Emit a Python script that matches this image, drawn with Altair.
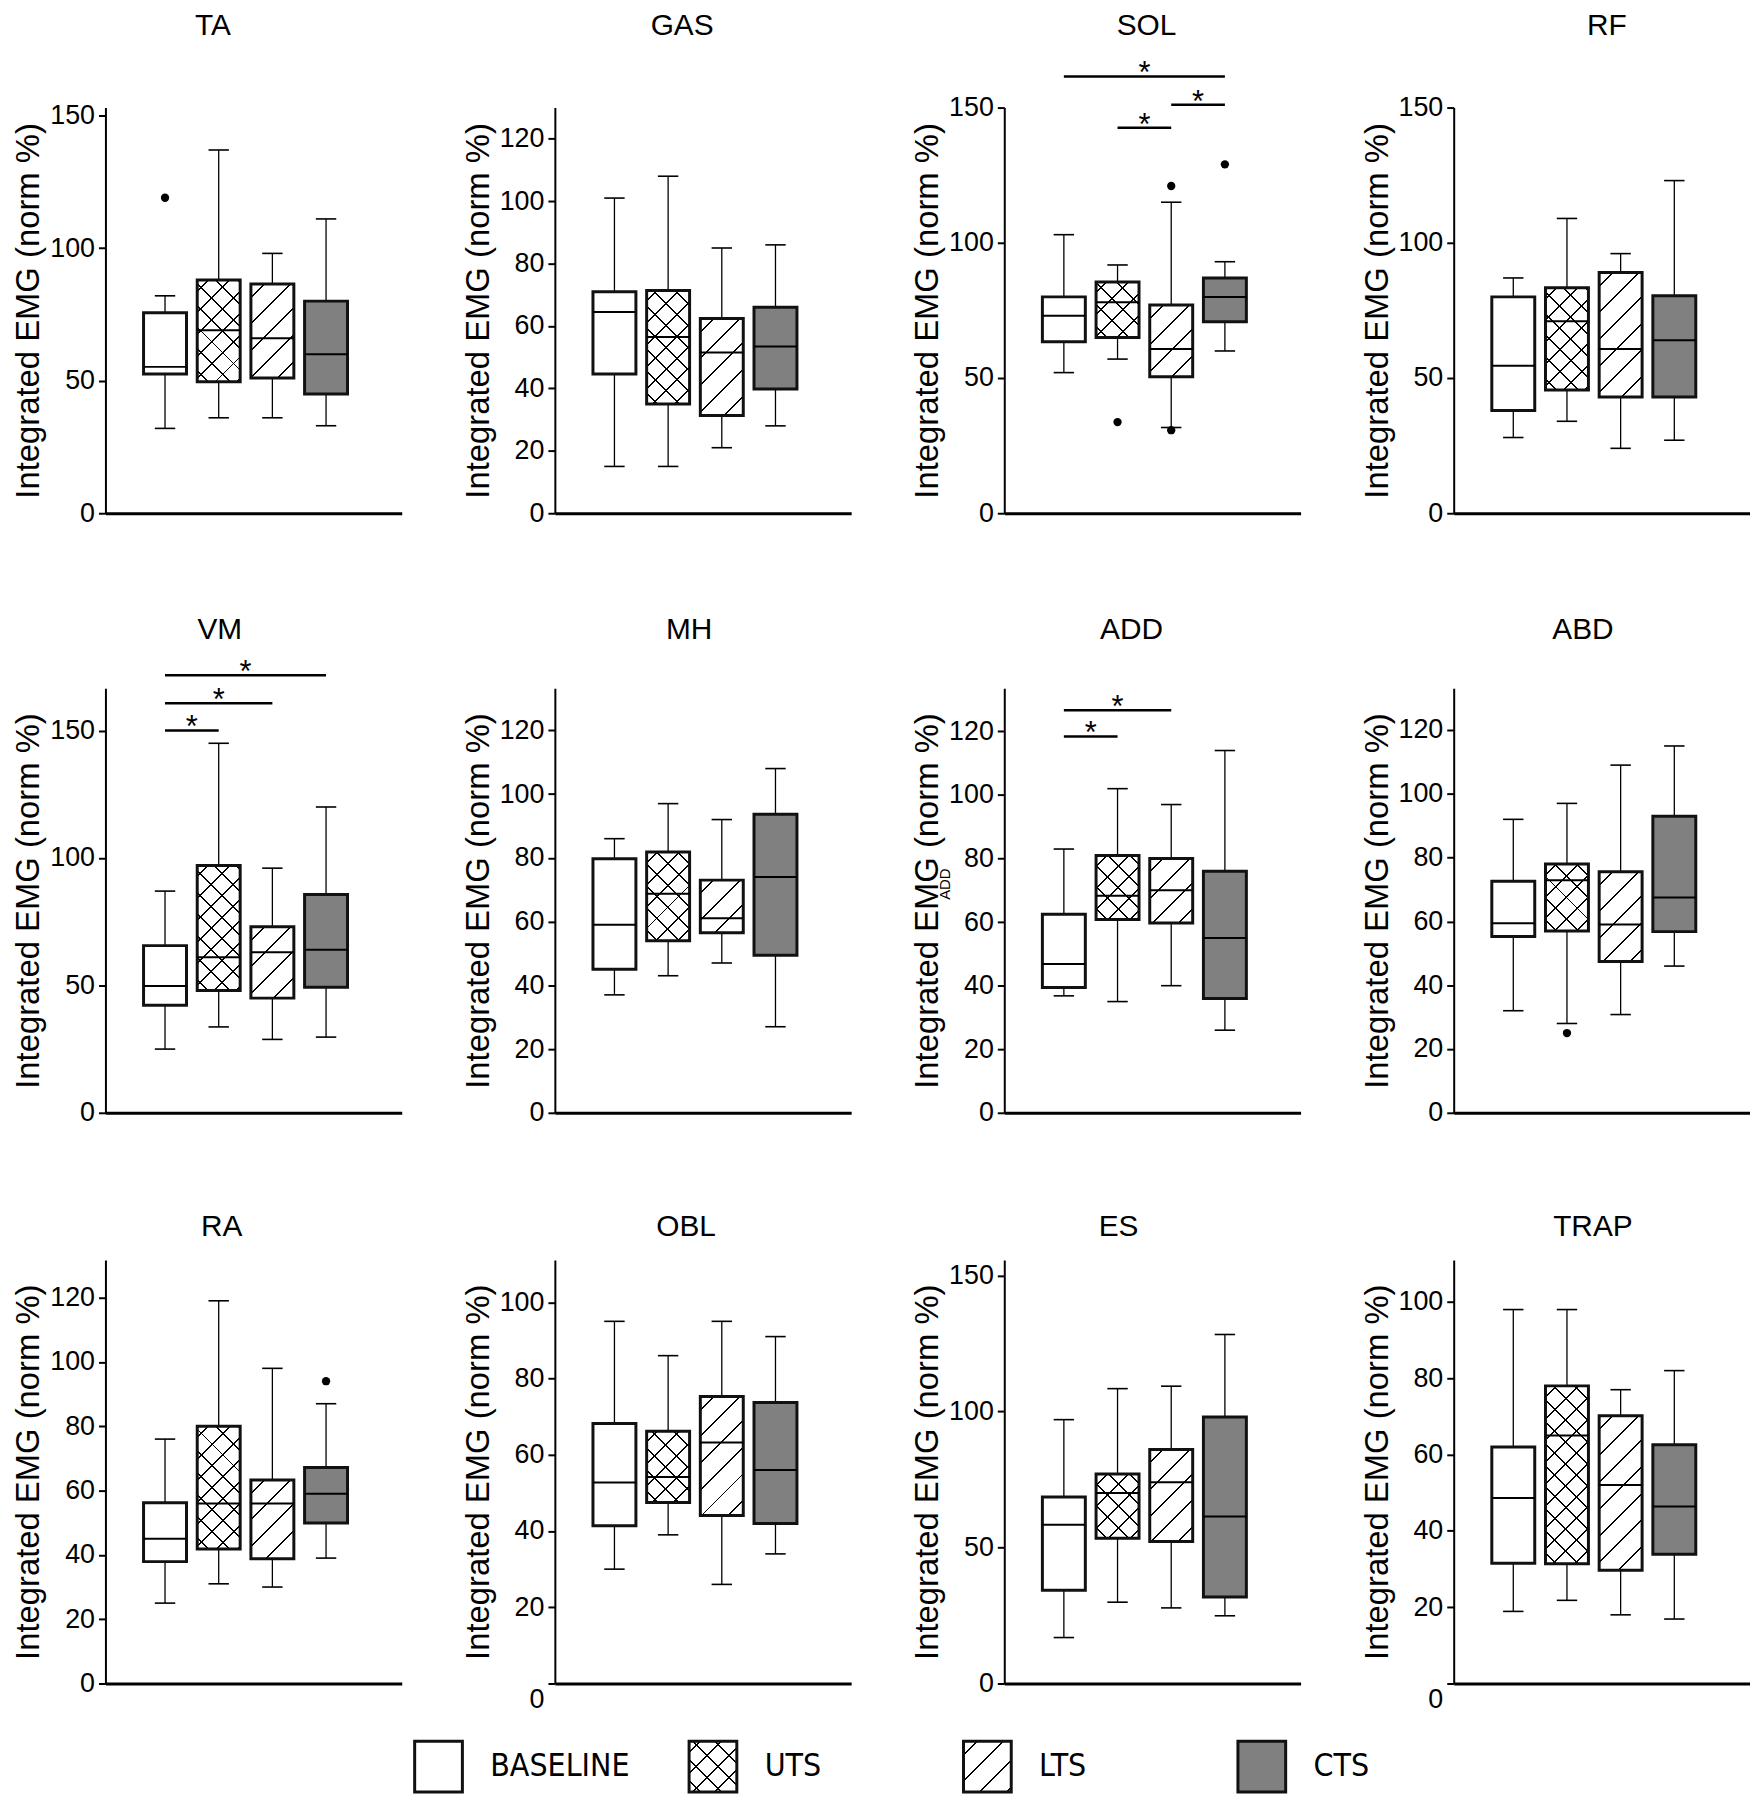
import altair as alt
import pandas as pd

GROUPS = ["BASELINE", "UTS", "LTS", "CTS"]
PANEL_ROWS = [
    ["TA", "GAS", "SOL", "RF"],
    ["VM", "MH", "ADD", "ABD"],
    ["RA", "OBL", "ES", "TRAP"],
]

# top of each y axis and its tick values
Y_TOP = {"TA": 153, "GAS": 130, "SOL": 150, "RF": 150,
         "VM": 166.6, "MH": 133.2, "ADD": 133.6, "ABD": 133.1,
         "RA": 131.7, "OBL": 111.1, "ES": 155.7, "TRAP": 111}
TICKS_150 = [0, 50, 100, 150]
TICKS_120 = [0, 20, 40, 60, 80, 100, 120]
TICKS_100 = [0, 20, 40, 60, 80, 100]
Y_TICKS = {"TA": TICKS_150, "GAS": TICKS_120, "SOL": TICKS_150, "RF": TICKS_150,
           "VM": TICKS_150, "MH": TICKS_120, "ADD": TICKS_120, "ABD": TICKS_120,
           "RA": TICKS_120, "OBL": TICKS_100, "ES": TICKS_150, "TRAP": TICKS_100}

# box plot values, order BASELINE, UTS, LTS, CTS
WHISKER_LOW = {
    "TA": [32, 36, 36, 33], "GAS": [15, 15, 21, 28], "SOL": [52, 57, 31.7, 60], "RF": [28, 34, 24, 27],
    "VM": [25, 33.7, 28.8, 29.7], "MH": [37, 43, 47, 27], "ADD": [36.8, 35, 40, 26], "ABD": [32, 28, 30.8, 46],
    "RA": [25, 31, 30, 39], "OBL": [30, 39, 26, 34], "ES": [16.9, 29.9, 27.8, 24.9], "TRAP": [18.9, 21.8, 18, 16.9],
}
Q1 = {
    "TA": [52.5, 49.6, 51, 45], "GAS": [44.6, 35, 31.3, 39.8], "SOL": [63.4, 65, 50.5, 70.8], "RF": [38, 45.6, 43, 43],
    "VM": [42.2, 48, 45, 49.3], "MH": [45, 54, 56.5, 49.4], "ADD": [39.4, 60.8, 59.7, 36], "ABD": [55.3, 57, 47.4, 56.8],
    "RA": [37.9, 41.8, 38.8, 49.9], "OBL": [41.4, 47.5, 44.1, 42], "ES": [34.3, 53.4, 52.2, 31.8], "TRAP": [31.5, 31.4, 29.7, 33.9],
}
MEDIAN = {
    "TA": [55.2, 69, 66, 60], "GAS": [64.5, 56.5, 51.5, 53.4], "SOL": [73, 78, 60.7, 80], "RF": [54.5, 71, 60.7, 64],
    "VM": [49.8, 61, 63, 64], "MH": [59, 68.7, 61, 74], "ADD": [46.8, 68.3, 70, 55], "ABD": [59.4, 72.9, 59, 67.5],
    "RA": [45, 56, 56, 59], "OBL": [52.7, 54.2, 63.2, 56], "ES": [58.4, 70, 74, 61.4], "TRAP": [48.6, 65, 52, 46.4],
}
Q3 = {
    "TA": [75.6, 88, 86.5, 80], "GAS": [71, 71.4, 62.4, 66], "SOL": [80, 85.5, 77, 87], "RF": [80, 83.4, 89, 80.4],
    "VM": [65.6, 97, 73, 85.7], "MH": [79.7, 81.8, 73, 93.7], "ADD": [62.5, 81, 80, 76], "ABD": [72.6, 78, 75.6, 93],
    "RA": [56.2, 80, 63.3, 67.2], "OBL": [68.2, 66.2, 75.3, 73.7], "ES": [68.6, 77, 86, 98], "TRAP": [62, 78, 70.2, 62.6],
}
WHISKER_HIGH = {
    "TA": [82, 137, 98, 111], "GAS": [101, 108, 85, 86], "SOL": [103, 91.8, 115, 93], "RF": [87, 109, 96, 123],
    "VM": [87, 145, 96, 120], "MH": [86, 97, 92, 108], "ADD": [83, 102, 97, 114], "ABD": [92, 97, 109, 115],
    "RA": [76, 119, 98, 87], "OBL": [95, 86, 95, 91], "ES": [97, 108.4, 109.3, 128.3], "TRAP": [98, 98, 77, 82],
}
OUTLIERS = [("TA", "BASELINE", 119), ("SOL", "UTS", 33.7), ("SOL", "LTS", 121), ("SOL", "LTS", 30.7),
            ("SOL", "CTS", 129), ("ABD", "UTS", 25), ("RA", "CTS", 94)]
SIGNIFICANT = [("SOL", "BASELINE", "CTS", 161.5), ("SOL", "UTS", "LTS", 142.5), ("SOL", "LTS", "CTS", 151),
               ("VM", "BASELINE", "UTS", 150), ("VM", "BASELINE", "LTS", 160.7), ("VM", "BASELINE", "CTS", 171.7),
               ("ADD", "BASELINE", "UTS", 118.4), ("ADD", "BASELINE", "LTS", 126.7)]

TITLE_SHIFT = {"TA": -41, "GAS": -21, "SOL": -6, "RF": 5, "VM": -34, "MH": -14, "ADD": -21, "ABD": -19,
               "RA": -32, "OBL": -17, "ES": -34, "TRAP": -9}

FONT = "Liberation Sans"
CONDENSED = "DejaVu Sans Condensed, Liberation Sans"

PLOT_W = 298
ROW_H = [408, 427, 426]
TITLE_Y = [-73, -50, -24]
X_DOMAIN = [-1.11, 4.41]
UNIT = PLOT_W / (X_DOMAIN[1] - X_DOMAIN[0])
BOX_HALF = 0.4
CAP_HALF = 0.19
BOX_FILL = ["white", "white", "white", "#808080"]
CLEAR = "rgba(255,255,255,0)"
HATCH = {"UTS": [("/", "white", 15.5), ("\\", CLEAR, 15.5)],
         "LTS": [("/", "white", 19)]}


def stripes(w, h, direction, bg, spacing, lw=1.4):
    # linear gradient that draws 45 degree lines inside a w x h box
    k = (w + h) / (w * w + h * h)
    if direction == "/":
        x1, y1, x2, y2 = 0, 0, k * w, k * h
    else:
        x1, y1, x2, y2 = 0, 1, k * w, 1 - k * h
    span = (w + h) / 2 ** 0.5
    half = lw / 2 / span
    stops = [alt.GradientStop(offset=0, color=bg)]
    d = spacing / 2
    while d < span:
        c = d / span
        a = round(max(c - half, 0), 5)
        b = round(min(c + half, 1), 5)
        stops += [alt.GradientStop(offset=a, color=bg), alt.GradientStop(offset=a, color="black"),
                  alt.GradientStop(offset=b, color="black"), alt.GradientStop(offset=b, color=bg)]
        d += spacing
    stops.append(alt.GradientStop(offset=1, color=bg))
    return alt.LinearGradient(gradient="linear", stops=stops, x1=x1, y1=y1, x2=x2, y2=y2)


def panel(m, height, title_y):
    top = Y_TOP[m]
    df = pd.DataFrame({"group": GROUPS, "pos": list(range(4)), "low": WHISKER_LOW[m], "q1": Q1[m],
                       "median": MEDIAN[m], "q3": Q3[m], "high": WHISKER_HIGH[m]})
    xs = alt.Scale(domain=X_DOMAIN, nice=False, zero=False)
    ys = alt.Scale(domain=[0, top], nice=False, zero=False)
    y_args = dict(values=Y_TICKS[m], title="Integrated EMG (norm %)", labelOverlap=False)
    if m in ("OBL", "TRAP"):
        y_args["labelOffset"] = {"condition": {"test": "datum.value === 0", "value": 16}, "value": 0}
    y_axis = alt.Axis(**y_args)
    x_axis = alt.Axis(labels=False, ticks=False, title=None, domainWidth=3)

    def X(f):
        return alt.X(f + ":Q", scale=xs, axis=x_axis)

    def Y(f):
        return alt.Y(f + ":Q", scale=ys, axis=y_axis)

    base = alt.Chart(df).transform_calculate(
        left=f"datum.pos - {BOX_HALF}", right=f"datum.pos + {BOX_HALF}",
        cap_left=f"datum.pos - {CAP_HALF}", cap_right=f"datum.pos + {CAP_HALF}")
    box = dict(x=X("left"), x2=alt.X2("right"), y=Y("q1"), y2=alt.Y2("q3"))

    layers = [
        base.mark_rule(color="black", strokeWidth=1.3).encode(x=X("pos"), y=Y("low"), y2=alt.Y2("high")),
        base.transform_fold(["low", "high"], as_=["end", "value"]).mark_rule(color="black", strokeWidth=1.6)
            .encode(x=X("cap_left"), x2=alt.X2("cap_right"), y=Y("value")),
        base.mark_rect(strokeWidth=0).encode(
            fill=alt.Fill("group:N", scale=alt.Scale(domain=GROUPS, range=BOX_FILL), legend=None), **box),
    ]
    box_w = 2 * BOX_HALF * UNIT
    for g, lo, hi in zip(GROUPS, Q1[m], Q3[m]):
        for direction, bg, spacing in HATCH.get(g, []):
            grad = stripes(box_w, (hi - lo) / top * height, direction, bg, spacing)
            layers.append(base.transform_filter(alt.datum.group == g)
                          .mark_rect(fill=grad, strokeWidth=0).encode(**box))
    layers += [
        base.mark_rect(fill="white", fillOpacity=0, stroke="#111111", strokeWidth=3).encode(**box),
        base.mark_rule(color="black", strokeWidth=2).encode(x=X("left"), x2=alt.X2("right"), y=Y("median")),
    ]

    out = [(GROUPS.index(g), v) for mm, g, v in OUTLIERS if mm == m]
    if out:
        odf = pd.DataFrame(out, columns=["pos", "value"])
        layers.append(alt.Chart(odf).mark_point(filled=True, size=70, color="black", opacity=1)
                      .encode(x=X("pos"), y=Y("value")))

    sig = [(GROUPS.index(a), GROUPS.index(b), v) for mm, a, b, v in SIGNIFICANT if mm == m]
    if sig:
        sdf = pd.DataFrame(sig, columns=["a", "b", "level"])
        sbase = alt.Chart(sdf).transform_calculate(mid="(datum.a + datum.b) / 2")
        layers.append(sbase.mark_rule(color="black", strokeWidth=2.5)
                      .encode(x=X("a"), x2=alt.X2("b"), y=Y("level")))
        layers.append(sbase.mark_text(text="*", font=FONT, fontSize=31, baseline="alphabetic", dy=7)
                      .encode(x=X("mid"), y=Y("level")))

    layers.append(alt.Chart(pd.DataFrame({"name": [m]}))
                  .mark_text(font=FONT, fontSize=30, align="center", baseline="alphabetic", dx=TITLE_SHIFT[m])
                  .encode(x=alt.value(PLOT_W / 2), y=alt.value(title_y), text="name:N"))
    if m == "ADD":
        layers.append(alt.Chart(pd.DataFrame({"sub": ["ADD"]}))
                      .mark_text(font=FONT, fontSize=15, angle=270, align="center", baseline="middle")
                      .encode(x=alt.value(-60), y=alt.value(197), text="sub:N"))

    return alt.layer(*layers).properties(width=PLOT_W, height=height)


def legend():
    LEG_W, LEG_H = 1481, 51
    step, first = 276, 335
    xs = alt.Scale(domain=[-first / step, (LEG_W - first) / step], nice=False, zero=False)
    half = 24 / step
    df = pd.DataFrame({"group": GROUPS, "pos": list(range(4))})
    base = alt.Chart(df).transform_calculate(left=f"datum.pos - {half}", right=f"datum.pos + {half}")
    box = dict(x=alt.X("left:Q", scale=xs, axis=None), x2=alt.X2("right"),
               y=alt.value(0), y2=alt.value(LEG_H))
    layers = [base.mark_rect(strokeWidth=0).encode(
        fill=alt.Fill("group:N", scale=alt.Scale(domain=GROUPS, range=BOX_FILL), legend=None), **box)]
    for g in GROUPS:
        for direction, bg, spacing in HATCH.get(g, []):
            layers.append(base.transform_filter(alt.datum.group == g)
                          .mark_rect(fill=stripes(48, LEG_H, direction, bg, spacing), strokeWidth=0)
                          .encode(**box))
    layers.append(base.mark_rect(fill="white", fillOpacity=0, stroke="#111111", strokeWidth=3).encode(**box))
    layers.append(base.mark_text(font=CONDENSED, fontSize=32, align="left", baseline="middle", dx=52)
                  .encode(x=alt.X("pos:Q", scale=xs, axis=None), y=alt.value(LEG_H / 2), text="group:N"))
    return alt.layer(*layers).properties(width=LEG_W, height=LEG_H)


rows = [alt.hconcat(*[panel(m, h, ty) for m in names], spacing=154, bounds="flush")
        for names, h, ty in zip(PANEL_ROWS, ROW_H, TITLE_Y)]

upper = alt.vconcat(rows[0], rows[1], spacing=89)
lower = alt.vconcat(rows[2], legend(), spacing=27)

chart = alt.vconcat(upper, lower, spacing=87).properties(
    padding={"left": 4, "top": -2, "right": 0, "bottom": 0}
).configure_view(
    strokeWidth=0
).configure_axis(
    grid=False,
    domainColor="black",
    tickColor="black",
    labelColor="black",
    titleColor="black",
).configure_axisY(
    labelFont=FONT,
    labelFontSize=27,
    labelPadding=4,
    tickSize=7,
    tickWidth=2,
    domainWidth=2,
    titleFont=FONT,
    titleFontSize=33,
    titleFontWeight="normal",
    titlePadding=4,
)

chart.save("out.html", embed_options={"renderer": "svg", "actions": False})
